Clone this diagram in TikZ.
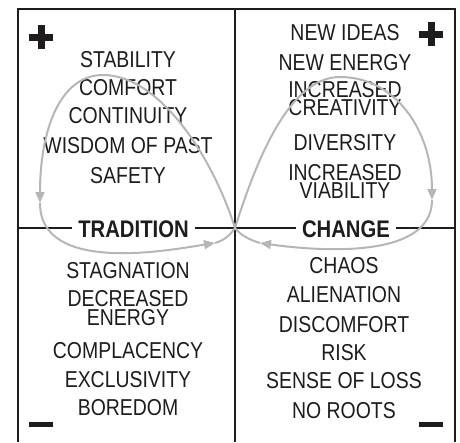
\documentclass[tikz,border=0pt]{standalone}
\usepackage{fontspec}
\setmainfont[FakeStretch=0.845]{Liberation Sans}
\usetikzlibrary{arrows.meta}
\definecolor{loopgray}{RGB}{182,182,182}
\definecolor{ink}{RGB}{30,28,28}
\tikzset{
  txt/.style={anchor=base, inner sep=0pt, text=ink, font=\fontsize{23}{23}\selectfont},
  lbl/.style={anchor=base, inner xsep=6pt, inner ysep=2pt, fill=white, text=ink, font=\fontsize{24}{24}\selectfont\bfseries},
  frame/.style={draw=ink, line width=2pt},
  loopline/.style={draw=loopgray, line width=2pt},
  tip/.style={-{Triangle[length=11pt,width=9pt]}, loopline},
  sign/.style={fill=ink}
}
\begin{document}
\begin{tikzpicture}[x=1pt,y=-1pt]
\useasboundingbox (0,0) rectangle (460,442);
% frame coordinates
\coordinate (tl) at (18,9);
\coordinate (tr) at (455,9);
\coordinate (bl) at (18,442);
\coordinate (br) at (455,442);
\coordinate (tm) at (235,9);
\coordinate (bm) at (235,442);
\coordinate (ml) at (18,228);
\coordinate (mr) at (455,228);
\coordinate (C) at (235,228);
\draw[frame] (bl) -- (tl) -- (tr) -- (br);
\draw[frame] (tm) -- (bm);
\draw[frame] (ml) -- (mr);

% text: top left
\node[txt] (a1) at (128,67) {STABILITY};
\node[txt] (a2) at (128,95) {COMFORT};
\node[txt] (a3) at (128,123) {CONTINUITY};
\node[txt] (a4) at (128,153) {WISDOM OF PAST};
\node[txt] (a5) at (128,183) {SAFETY};
% top right
\node[txt] (b1) at (345,40) {NEW IDEAS};
\node[txt] (b2) at (345,70) {NEW ENERGY};
\node[txt] (b3) at (345,97.5) {INCREASED};
\node[txt] (b4) at (345,115) {CREATIVITY};
\node[txt] (b5) at (345,150) {DIVERSITY};
\node[txt] (b6) at (345,180) {INCREASED};
\node[txt] (b7) at (345,198) {VIABILITY};
% bottom left
\node[txt] (c1) at (128,278) {STAGNATION};
\node[txt] (c2) at (128,306.5) {DECREASED};
\node[txt] (c3) at (128,325) {ENERGY};
\node[txt] (c4) at (128,358) {COMPLACENCY};
\node[txt] (c5) at (128,387) {EXCLUSIVITY};
\node[txt] (c6) at (128,415) {BOREDOM};
% bottom right
\node[txt] (d1) at (344,273) {CHAOS};
\node[txt] (d2) at (344,302) {ALIENATION};
\node[txt] (d3) at (344,332) {DISCOMFORT};
\node[txt] (d4) at (344,360) {RISK};
\node[txt] (d5) at (344,388) {SENSE OF LOSS};
\node[txt] (d6) at (344,418) {NO ROOTS};

% loop
\coordinate (p1) at (103,75);
\coordinate (t1) at (40,203);
\coordinate (t2) at (215,243);
\coordinate (p2) at (340,77);
\coordinate (t3) at (432,200);
\coordinate (t4) at (260,243);
\draw[loopline] (C) .. controls (213,158) and (160,75) .. (p1);
\draw[tip] (p1) .. controls (60,75) and (40,130) .. (t1);
\draw[tip] (t1) .. controls (40,275) and (170,250) .. (t2);
\draw[loopline] (t2) .. controls (225,240) and (230,235) .. (C);
\draw[loopline] (C) .. controls (257,158) and (290,77) .. (p2);
\draw[tip] (p2) .. controls (395,77) and (432,130) .. (t3);
\draw[tip] (t3) .. controls (432,262) and (310,250) .. (t4);
\draw[loopline] (t4) .. controls (250,240) and (240,235) .. (C);

% labels on the middle line
\node[lbl] (trad) at (133.5,237) {TRADITION};
\node[lbl] (chg) at (346,237) {CHANGE};

% plus and minus signs
\fill[sign] (29,33.5) rectangle (53,40.5);
\fill[sign] (37.5,25) rectangle (44.5,49);
\fill[sign] (419,30.5) rectangle (443,37.5);
\fill[sign] (427.5,22) rectangle (434.5,46);
\fill[sign] (29,422) rectangle (53,427);
\fill[sign] (419,422) rectangle (443,427);
\end{tikzpicture}
\end{document}
